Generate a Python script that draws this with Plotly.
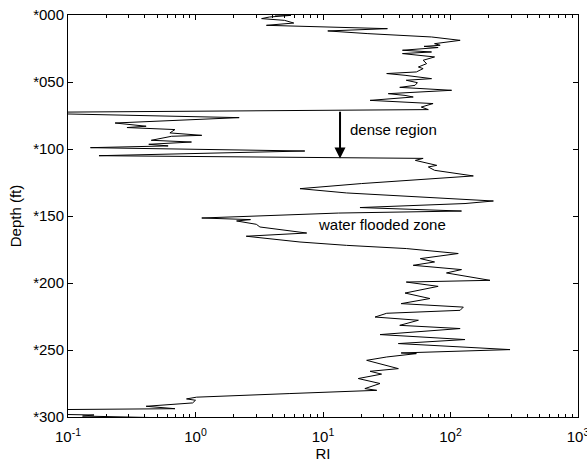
import plotly.graph_objects as go
import math

depth = [0.0, 0.3, 1.5, 2.7, 4.0, 6.0, 7.7, 10.2, 11.9, 13.9, 16.4, 18.9, 21.4, 22.6, 23.4, 24.3,
         26.3, 27.6, 28.8, 31.3, 33.8, 36.3, 38.8, 40.0, 42.5, 43.7, 45.0, 47.5, 48.7, 50.5,
         52.5, 54.0, 56.2, 58.7, 60.0, 61.2, 63.7, 65.0, 66.1, 68.7, 70.6, 72.8, 76.6, 80.6,
         83.0, 84.0, 85.5, 88.0, 89.8, 90.5, 93.5, 94.8, 96.5, 97.7, 99.0, 101.5, 105.0,
         107.0, 108.5, 112.2, 113.4, 115.9, 120.1, 125.8, 129.6, 132.8, 138.8, 140.7, 143.7,
         146.3, 147.8, 151.5, 152.7, 153.7, 156.2, 158.2, 162.0, 162.7, 165.1, 169.4, 171.9,
         174.3, 178.0, 181.8, 184.3, 186.8, 190.0, 192.5, 198.0, 199.3, 202.5, 207.5, 211.6,
         215.4, 218.0, 220.4, 222.6, 225.4, 227.8, 231.6, 234.0, 238.5, 242.2, 245.2, 249.7,
         252.2, 252.7, 255.2, 257.7, 263.9, 265.9, 268.0, 271.3, 275.0, 278.8, 280.1, 282.5,
         284.5, 285.2, 286.5, 287.5, 289.5, 292.0, 293.8, 294.8, 297.5, 298.5, 299.3, 300.5]
ri = [4.2, 5.6, 3.8, 3.3, 5.0, 5.9, 3.6, 32, 10.9, 22.5, 71, 119, 75, 83, 62, 80,
      42, 71, 42, 75, 61, 65, 56, 61, 54, 31.6, 44, 71, 45, 55,
      52.7, 40, 102, 32.5, 44, 51, 23.4, 40, 73, 59, 67, 0.03, 2.2, 0.234,
      0.41, 0.29, 0.69, 0.63, 1.12, 0.65, 0.45, 0.93, 0.43, 0.61, 0.15, 7.2, 0.175,
      61, 53, 78, 67, 75, 151, 20, 6.6, 15.3, 217, 130, 19.5,
      122, 13.2, 1.12, 2.7, 2.1, 3.0, 3.2, 6.6, 7.45, 2.5, 6.6, 15.3,
      45, 115, 58, 75, 51, 122, 93, 204, 45, 80, 44, 69,
      41, 126, 119, 31.6, 25.6, 56, 40, 119, 28, 130, 39, 293,
      41, 54, 31.6, 22, 39, 23.4, 28.8, 18.9, 28, 21.3, 26.4, 5.5,
      1.8, 1.02, 0.85, 1.0, 0.95, 0.41, 0.69, 0.03, 0.04, 0.16, 0.13, 0.5]

x_tick_vals = [0.1, 1, 10, 100, 1000]
x_tick_text = ["10<sup>-1</sup>", "10<sup>0</sup>", "10<sup>1</sup>", "10<sup>2</sup>", "10<sup>3</sup>"]
x_minor_vals = [m * 10.0 ** e for e in range(-1, 3) for m in range(2, 10)]
y_tick_vals = [0, 50, 100, 150, 200, 250, 300]
y_tick_text = ["*000", "*050", "*100", "*150", "*200", "*250", "*300"]

arrow_ri = 13.6
arrow_top = 71.0
arrow_bottom = 107.0

FONT = "Liberation Sans, Arial, sans-serif"
FS = 15

fig = go.Figure()
fig.add_trace(go.Scatter(x=ri, y=depth, mode="lines",
                         line=dict(color="black", width=1), showlegend=False))

fig.add_annotation(x=math.log10(arrow_ri), y=arrow_bottom, ax=math.log10(arrow_ri), ay=arrow_top,
                   xref="x", yref="y", axref="x", ayref="y", text="", showarrow=True,
                   arrowhead=2, arrowsize=1.1, arrowwidth=2, arrowcolor="black")
fig.add_annotation(x=math.log10(36), y=85.2, xref="x", yref="y", text="dense region",
                   showarrow=False, xanchor="center", yanchor="middle",
                   font=dict(size=FS, color="black", family=FONT))
fig.add_annotation(x=math.log10(29), y=156.3, xref="x", yref="y", text="water flooded zone",
                   showarrow=False, xanchor="center", yanchor="middle",
                   font=dict(size=FS, color="black", family=FONT))

fig.update_layout(
    width=587, height=462,
    margin=dict(l=68, r=9, t=15, b=45, autoexpand=False),
    paper_bgcolor="white", plot_bgcolor="white",
    font=dict(family=FONT, size=FS, color="black"),
    xaxis=dict(type="log", range=[-1, 3], tickmode="array", tickvals=x_tick_vals,
               ticktext=x_tick_text, ticks="inside", ticklen=5, tickcolor="black",
               ticklabelstandoff=6, ticklabeloverflow="allow", automargin=False,
               showline=True, linecolor="black", linewidth=1, mirror="allticks",
               showgrid=False, zeroline=False,
               minor=dict(tickmode="array", tickvals=x_minor_vals, ticks="inside",
                          ticklen=3, tickcolor="black", showgrid=False),
               title=dict(text="RI", standoff=2, font=dict(size=FS)),
               tickfont=dict(size=FS)),
    yaxis=dict(range=[300, 0], tickmode="array", tickvals=y_tick_vals, ticktext=y_tick_text,
               ticks="inside", ticklen=5, tickcolor="black", automargin=False,
               showline=True, linecolor="black", linewidth=1, mirror="allticks",
               showgrid=False, zeroline=False,
               title=dict(text="Depth (ft)", standoff=7, font=dict(size=FS)),
               tickfont=dict(size=FS)),
)

fig.write_html("out.html", post_script="document.body.style.margin='0';",
               config={"displayModeBar": False})
